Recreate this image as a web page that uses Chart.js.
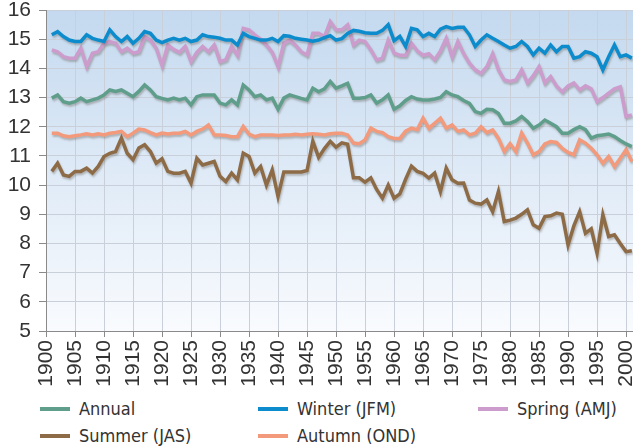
<!DOCTYPE html>
<html>
<head>
<meta charset="utf-8">
<script src="https://cdn.jsdelivr.net/npm/chart.js@4.4.1/dist/chart.umd.min.js"></script>
<style>
  html, body { margin: 0; padding: 0; background: #fff; }
  #wrap { position: relative; width: 633px; height: 447px; overflow: hidden; }
  #temp-chart { position: absolute; left: 0; top: 0; }
  #legend {
    position: absolute; left: 40px; top: 395px;
    display: grid; grid-template-columns: 218px 220px auto; grid-auto-rows: 27px;
    font-family: "DejaVu Sans Condensed", "Liberation Sans", sans-serif;
    font-size: 18px; color: #333;
  }
  .legend-item { display: flex; align-items: center; white-space: nowrap; }
  .legend-item .swatch { display: inline-block; width: 30px; height: 4px; margin-right: 9px; }
</style>
</head>
<body>
<div id="wrap">
  <canvas id="temp-chart" width="633" height="395"></canvas>
  <div id="legend"></div>
</div>
<script>
const years = [
  1901, 1902, 1903, 1904, 1905, 1906, 1907, 1908, 1909, 1910,
  1911, 1912, 1913, 1914, 1915, 1916, 1917, 1918, 1919, 1920,
  1921, 1922, 1923, 1924, 1925, 1926, 1927, 1928, 1929, 1930,
  1931, 1932, 1933, 1934, 1935, 1936, 1937, 1938, 1939, 1940,
  1941, 1942, 1943, 1944, 1945, 1946, 1947, 1948, 1949, 1950,
  1951, 1952, 1953, 1954, 1955, 1956, 1957, 1958, 1959, 1960,
  1961, 1962, 1963, 1964, 1965, 1966, 1967, 1968, 1969, 1970,
  1971, 1972, 1973, 1974, 1975, 1976, 1977, 1978, 1979, 1980,
  1981, 1982, 1983, 1984, 1985, 1986, 1987, 1988, 1989, 1990,
  1991, 1992, 1993, 1994, 1995, 1996, 1997, 1998, 1999, 2000, 2001
];

const annual = [
  12.98, 13.09, 12.86, 12.81, 12.86, 12.98, 12.86, 12.92, 12.98, 13.09,
  13.26, 13.21, 13.26, 13.15, 13.03, 13.21, 13.43, 13.26, 13.03, 12.97,
  12.92, 12.98, 12.92, 12.98, 12.75, 13.03, 13.09, 13.09, 13.09, 12.81,
  12.75, 12.92, 12.75, 13.43, 13.26, 13.03, 13.09, 12.92, 12.98, 12.60,
  12.98, 13.09, 13.03, 12.97, 12.92, 13.32, 13.20, 13.30, 13.55, 13.32,
  13.40, 13.49, 12.98, 12.98, 13.00, 13.09, 12.81, 12.92, 13.09, 12.60,
  12.72, 12.90, 13.03, 12.95, 12.92, 12.92, 12.95, 13.00, 13.20, 13.09,
  13.03, 12.90, 12.80, 12.52, 12.46, 12.60, 12.58, 12.45, 12.12, 12.12,
  12.20, 12.35, 12.18, 11.95, 12.06, 12.23, 12.12, 12.00, 11.78, 11.78,
  11.90, 12.00, 11.90, 11.61, 11.69, 11.72, 11.75, 11.66, 11.53, 11.41, 11.32
];

const winter = [
  15.15, 15.26, 15.09, 14.97, 14.92, 14.92, 15.15, 15.03, 14.97, 14.92,
  15.32, 15.09, 14.92, 15.09, 14.86, 15.03, 15.26, 15.20, 14.97, 14.88,
  14.97, 15.03, 14.97, 15.03, 14.92, 14.97, 15.15, 15.09, 15.07, 15.03,
  14.97, 14.97, 14.80, 15.20, 15.09, 15.03, 14.97, 14.97, 15.03, 14.92,
  15.12, 15.10, 15.03, 15.00, 14.97, 14.93, 14.97, 15.05, 15.12, 14.97,
  15.02, 15.20, 15.30, 15.27, 15.22, 15.20, 15.20, 15.30, 15.50, 14.95,
  15.10, 14.75, 15.37, 15.32, 15.09, 15.20, 15.09, 15.34, 15.43, 15.37,
  15.41, 15.41, 15.15, 14.75, 14.97, 15.15, 15.03, 14.92, 14.80, 14.69,
  14.75, 14.92, 14.75, 14.46, 14.69, 14.52, 14.80, 14.57, 14.75, 14.75,
  14.35, 14.40, 14.57, 14.52, 14.40, 13.95, 14.40, 14.80, 14.40, 14.46, 14.35
];

const spring = [
  14.63, 14.57, 14.40, 14.35, 14.35, 14.69, 14.06, 14.52, 14.57, 14.86,
  14.92, 14.86, 14.57, 14.69, 14.52, 14.57, 15.09, 14.97, 14.69, 14.10,
  14.80, 14.65, 14.55, 14.75, 14.23, 14.55, 14.75, 14.57, 14.80, 14.23,
  14.30, 14.75, 14.45, 15.37, 15.32, 15.15, 15.00, 14.80, 14.55, 14.06,
  14.86, 14.97, 14.80, 14.57, 14.46, 15.20, 15.20, 15.09, 15.60, 15.32,
  15.32, 15.49, 14.80, 14.97, 14.92, 14.63, 14.29, 14.35, 14.97, 14.52,
  14.45, 14.45, 14.86, 14.60, 14.45, 14.50, 14.30, 14.60, 15.03, 14.40,
  14.92, 14.50, 14.18, 13.95, 13.83, 14.06, 14.50, 13.95, 13.60, 13.55,
  13.60, 13.95, 13.50, 13.75, 14.06, 13.50, 13.72, 13.40, 13.20, 13.40,
  13.50, 13.26, 13.40, 13.30, 12.86, 13.00, 13.15, 13.30, 13.37, 12.35, 12.40
];

const summer = [
  10.47, 10.75, 10.35, 10.30, 10.47, 10.47, 10.58, 10.41, 10.64, 10.98,
  11.09, 11.15, 11.61, 11.09, 10.87, 11.27, 11.38, 11.15, 10.75, 10.90,
  10.47, 10.41, 10.41, 10.47, 10.07, 10.92, 10.69, 10.75, 10.81, 10.30,
  10.12, 10.41, 10.18, 11.09, 10.98, 10.41, 10.64, 10.00, 10.52, 9.61,
  10.45, 10.45, 10.45, 10.45, 10.50, 11.50, 10.95, 11.25, 11.50, 11.30,
  11.45, 11.40, 10.25, 10.25, 10.10, 10.25, 9.85, 9.55, 10.00, 9.55,
  9.70, 10.20, 10.65, 10.47, 10.40, 10.24, 10.41, 9.78, 10.58, 10.18,
  10.06, 10.07, 9.49, 9.38, 9.35, 9.49, 9.09, 9.78, 8.75, 8.80,
  8.87, 9.00, 9.15, 8.64, 8.52, 8.92, 8.95, 9.04, 9.00, 7.95,
  8.60, 9.09, 8.35, 8.50, 7.67, 8.98, 8.24, 8.30, 8.00, 7.72, 7.75
];

const autumn = [
  11.78, 11.78, 11.69, 11.66, 11.69, 11.72, 11.76, 11.72, 11.76, 11.72,
  11.78, 11.80, 11.84, 11.66, 11.78, 11.92, 11.89, 11.80, 11.72, 11.78,
  11.75, 11.78, 11.78, 11.84, 11.72, 11.84, 11.92, 12.06, 11.72, 11.72,
  11.70, 11.66, 11.66, 12.01, 11.75, 11.66, 11.72, 11.72, 11.72, 11.70,
  11.72, 11.72, 11.74, 11.72, 11.74, 11.76, 11.74, 11.72, 11.76, 11.78,
  11.78, 11.72, 11.44, 11.42, 11.55, 11.95, 11.84, 11.80, 11.66, 11.60,
  11.60, 11.85, 11.95, 11.90, 12.29, 11.95, 12.12, 12.29, 11.95, 12.06,
  11.84, 11.89, 11.72, 11.78, 12.00, 11.80, 11.89, 11.60, 11.15, 11.42,
  11.15, 11.78, 11.44, 11.04, 11.15, 11.41, 11.49, 11.46, 11.26, 11.12,
  11.04, 11.55, 11.44, 11.26, 11.04, 10.75, 10.98, 10.64, 10.92, 11.21, 10.81
];

const yTicks = [5, 6, 7, 8, 9, 10, 11, 12, 13, 14, 15, 16];

const seriesNames = ['Annual', 'Winter (JFM)', 'Spring (AMJ)', 'Summer (JAS)', 'Autumn (OND)'];
const seriesColors = ['#5f9e8b', '#0c8ccd', '#cc9dcc', '#8d6b46', '#f29a7b'];
const seriesValues = [annual, winter, spring, summer, autumn];

const tickFont = { family: '"Liberation Sans", Arial, sans-serif', size: 21 };

// light-blue wash behind the plot
const plotBackground = {
  id: 'plotBackground',
  beforeDraw(chart) {
    const { ctx, chartArea: a } = chart;
    const g = ctx.createLinearGradient(0, a.top, 0, a.bottom);
    g.addColorStop(0, '#c4d9ef');
    g.addColorStop(1, '#f9fbfe');
    ctx.save();
    ctx.fillStyle = g;
    ctx.fillRect(a.left, a.top, a.right - a.left, a.bottom - a.top);
    ctx.restore();
  }
};

// soft drop shadow under each line
const lineShadow = {
  id: 'lineShadow',
  beforeDatasetDraw(chart) {
    const ctx = chart.ctx;
    ctx.save();
    ctx.shadowColor = 'rgba(90, 80, 70, 0.35)';
    ctx.shadowBlur = 2;
    ctx.shadowOffsetX = 1;
    ctx.shadowOffsetY = 2;
  },
  afterDatasetDraw(chart) {
    chart.ctx.restore();
  }
};

const datasets = seriesNames.map((name, i) => ({
  label: name,
  data: seriesValues[i],
  borderColor: seriesColors[i],
  backgroundColor: seriesColors[i],
  borderWidth: 3.5,
  pointRadius: 0,
  tension: 0,
  fill: false
}));

new Chart(document.getElementById('temp-chart'), {
  type: 'line',
  data: { labels: years, datasets: datasets },
  options: {
    responsive: false,
    animation: false,
    layout: { padding: { top: 10, bottom: 4, left: 0, right: 0 } },
    scales: {
      x: {
        type: 'linear',
        min: 1900,
        max: 2001.2,
        ticks: {
          stepSize: 5,
          includeBounds: false,
          autoSkip: false,
          minRotation: 90,
          maxRotation: 90,
          padding: 3,
          color: '#333',
          font: tickFont,
          callback: v => String(v)
        },
        grid: { color: '#c9d0da', tickColor: '#8a8a8a', tickLength: 6 },
        border: { color: '#8a8a8a', width: 1 },
        afterFit(scale) {
          scale.height = 60;
          scale.paddingLeft = 0;
          scale.paddingRight = 0;
        }
      },
      y: {
        min: 5,
        max: 16,
        afterBuildTicks(scale) {
          scale.ticks = yTicks.map(v => ({ value: v }));
        },
        ticks: { padding: 8, color: '#333', font: tickFont },
        grid: { color: '#c9d0da', tickColor: '#8a8a8a', tickLength: 7 },
        border: { color: '#8a8a8a', width: 1 },
        afterFit(scale) {
          scale.width = 46;
          scale.paddingTop = 0;
          scale.paddingBottom = 0;
        }
      }
    },
    plugins: {
      legend: { display: false },
      tooltip: { enabled: false }
    }
  },
  plugins: [plotBackground, lineShadow]
});

const legendEl = document.getElementById('legend');
seriesNames.forEach((name, i) => {
  const item = document.createElement('div');
  item.className = 'legend-item';
  const sw = document.createElement('span');
  sw.className = 'swatch';
  sw.style.background = seriesColors[i];
  item.appendChild(sw);
  item.appendChild(document.createTextNode(name));
  legendEl.appendChild(item);
});
</script>
</body>
</html>
